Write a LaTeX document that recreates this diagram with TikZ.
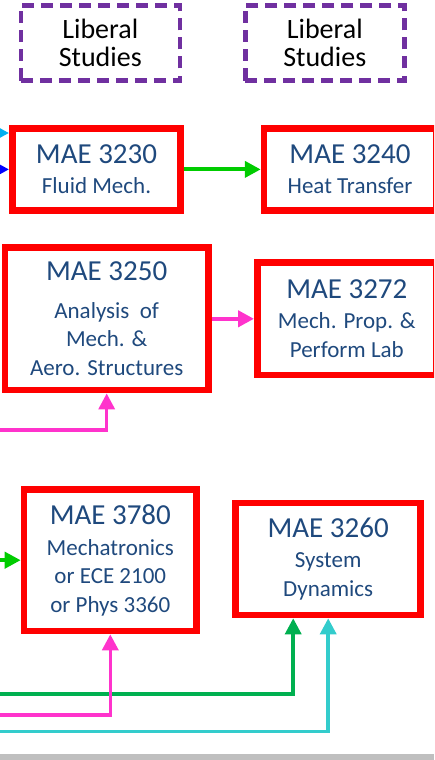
\documentclass[tikz,border=0pt]{standalone}
\usepackage{fontspec}
\setmainfont{Carlito}
\usetikzlibrary{arrows.meta}

\begin{document}
\begin{tikzpicture}[x=1pt, y=-1pt,
    course/.style={rectangle, draw=red, line width=6.5pt, text=titleblue, align=center, inner sep=0pt, font=\fontsize{23}{28.5}\selectfont},
    libstudies/.style={rectangle, draw=libpurple, line width=4.5pt, dash pattern=on 12pt off 7pt, align=center, inner sep=0pt, font=\fontsize{28}{28.3}\selectfont},
    arrow/.style={-{Triangle[length=16pt, width=16pt]}, line width=4pt},
    longarrow/.style={-{Triangle[length=16pt, width=16pt]}, line width=3.5pt}
]

% Define colors
\definecolor{titleblue}{RGB}{31, 73, 125}
\definecolor{libpurple}{RGB}{112, 48, 160}
\definecolor{skyc}{RGB}{0, 176, 240}
\definecolor{bluec}{RGB}{0, 0, 255}
\definecolor{greenc}{RGB}{0, 204, 0}
\definecolor{pinkc}{RGB}{255, 51, 204}
\definecolor{dgreenc}{RGB}{0, 176, 80}
\definecolor{turqc}{RGB}{51, 204, 204}
\definecolor{barc}{RGB}{191, 191, 191}

\useasboundingbox (0,0) rectangle (434,760);
\clip (0,0) rectangle (434,760);

% Liberal Studies
\node[libstudies, minimum width=159pt, minimum height=75pt] (lib1) at (100.3,43) {Liberal\\Studies};
\node[libstudies, minimum width=159pt, minimum height=75pt] (lib2) at (324.8,43) {Liberal\\Studies};

% MAE 3230 and MAE 3240
\node[course, minimum width=168.4pt, minimum height=82pt] (a3230) at (96.5,169.4) {
    {\fontsize{29}{29}\selectfont MAE 3230}\\[1.5pt]
    Fluid Mech.
};
\node[course, minimum width=172pt, minimum height=82pt] (a3240) at (350,169.4) {
    {\fontsize{29}{29}\selectfont MAE 3240}\\[1.5pt]
    Heat Transfer
};

% MAE 3250 and MAE 3272
\node[course, minimum width=203.3pt, minimum height=142.7pt] (a3250) at (106.7,318.8) {
    {\fontsize{29}{29}\selectfont MAE 3250}\\[9pt]
    Analysis\ \ of\\
    Mech. \&\\
    Aero. Structures
};
\node[course, minimum width=179pt, minimum height=112.3pt] (a3272) at (346.8,318.8) {
    {\fontsize{29}{29}\selectfont MAE 3272}\\[1.5pt]
    Mech. Prop. \&\\
    Perform Lab
};

% MAE 3780 and MAE 3260
\node[course, minimum width=172.7pt, minimum height=141.7pt] (a3780) at (110.3,560.2) {
    {\fontsize{29}{29}\selectfont MAE 3780}\\[2pt]
    Mechatronics\\
    or ECE 2100\\
    or Phys 3360
};
\node[course, minimum width=185pt, minimum height=112.3pt] (a3260) at (328.2,558.9) {
    {\fontsize{29}{29}\selectfont MAE 3260}\\[2pt]
    System\\
    Dynamics
};

% Free ends at the left edge
\coordinate (skyin) at (0,133);
\coordinate (bluein) at (0,169.4);
\coordinate (greenin) at (0,560.2);
\coordinate (pinkup) at (0,430);
\coordinate (dgreenin) at (0,694);
\coordinate (pinkin) at (0,715);
\coordinate (turqin) at (0,731.7);

% Arrows
\draw[arrow, skyc] (skyin) -- (skyin -| a3230.west);
\draw[arrow, bluec] (bluein) -- (a3230.west);
\draw[arrow, greenc] (a3230.east) -- (a3240.west);
\draw[arrow, pinkc] (a3250.east) -- (a3272.west);
\draw[longarrow, pinkc] (pinkup) -| (a3250.south);
\draw[arrow, greenc] (greenin) -- (a3780.west);
\draw[longarrow, dgreenc] (dgreenin) -| ([xshift=-35pt]a3260.south);
\draw[longarrow, pinkc] (pinkin) -| (a3780.south);
\draw[longarrow, turqc] (turqin) -| (a3260.south);

% Bottom bar
\fill[barc] (0,754) rectangle (434,760);

\end{tikzpicture}
\end{document}
